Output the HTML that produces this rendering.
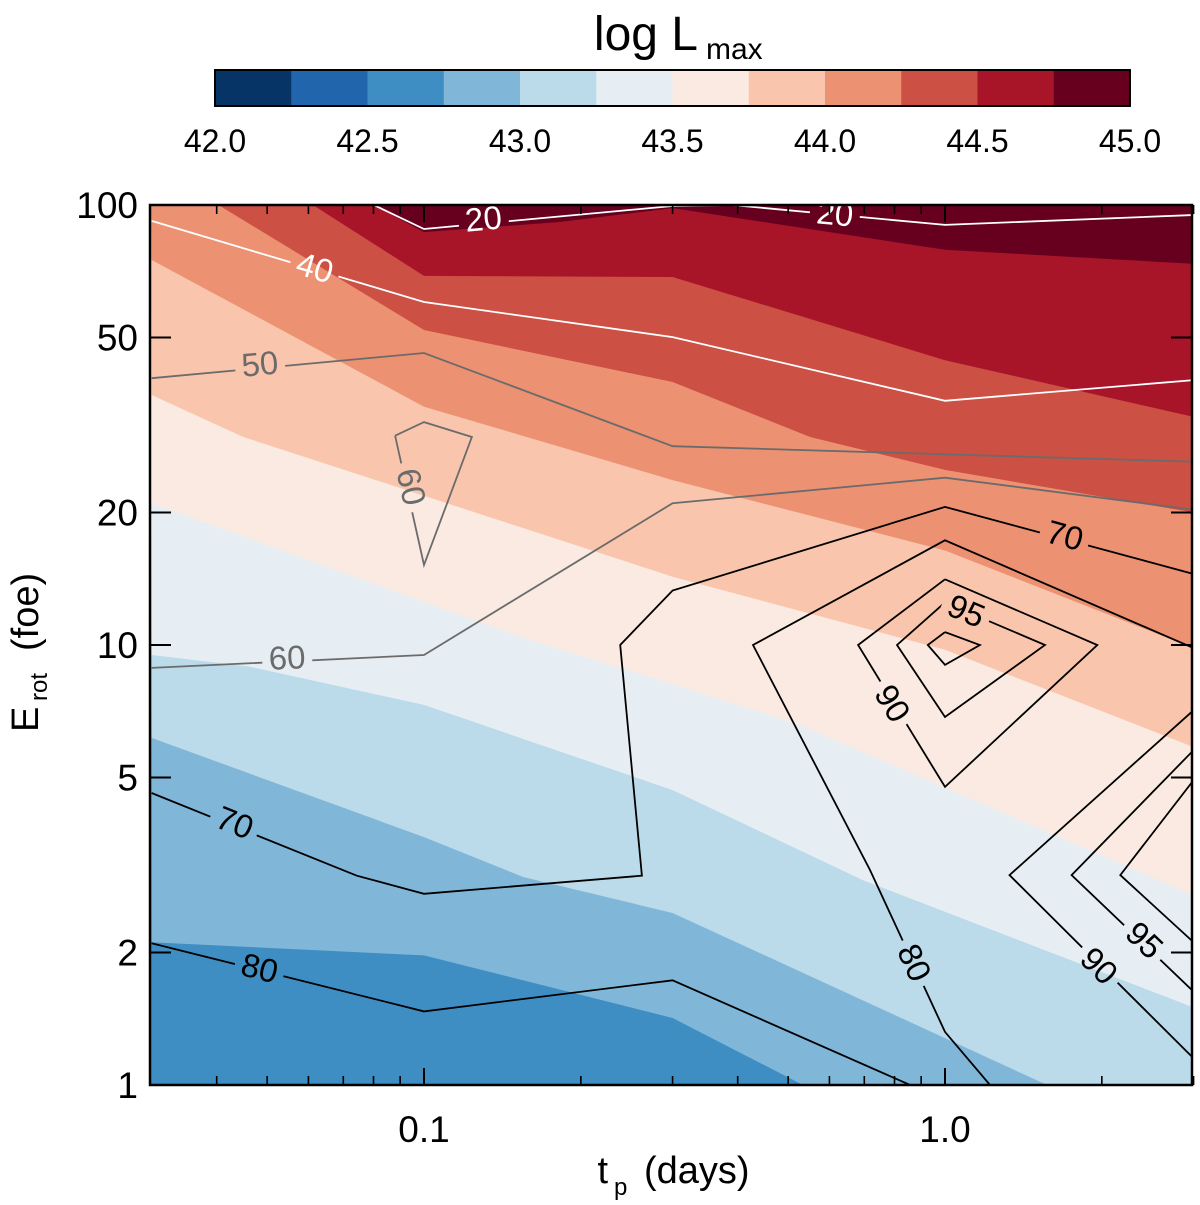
<!DOCTYPE html>
<html><head><meta charset="utf-8"><style>
html,body{margin:0;background:#fff;width:1200px;height:1205px;overflow:hidden}
svg{display:block}
svg text{font-family:"Liberation Sans",sans-serif}
</style></head><body>
<svg id="chart" width="1200" height="1205" viewBox="0 0 1200 1205" xmlns="http://www.w3.org/2000/svg">
<defs>
<clipPath id="plotclip"><rect x="150" y="205" width="1042" height="880"/></clipPath>
<mask id="labelmask" maskUnits="userSpaceOnUse" x="0" y="0" width="1200" height="1205"><rect x="0" y="0" width="1200" height="1205" fill="#fff"/><g id="maskholes"></g></mask>
</defs>
<g id="colorbar"></g>
<g>
<text x="698" y="50" font-size="48" text-anchor="end">log L</text>
<text x="706" y="59" font-size="30">max</text>
</g>
<g clip-path="url(#plotclip)">
<g id="bands"></g>
<g id="lines" mask="url(#labelmask)"></g>
</g>
<g id="labels"></g>
<g id="axes"></g>
<text x="608" y="1183" font-size="38" text-anchor="end">t</text>
<text x="614" y="1195" font-size="24">p</text>
<text x="644" y="1183" font-size="38">(days)</text>
<g transform="translate(38,645) rotate(-90)">
<text x="-87" y="0" font-size="38">E</text>
<text x="-56" y="9" font-size="24">rot</text>
<text x="-6" y="0" font-size="38">(foe)</text>
</g>
</svg>
<script>
const NS='http://www.w3.org/2000/svg';
const bandColors=['#073466','#2166ac','#3e8ec4','#80b7d8','#bbdaea','#e6eef3','#faeae1','#f9c6ad','#ec9273','#cc5044','#a81529','#67001f'];
const levelTicks=[42.0,42.5,43.0,43.5,44.0,44.5,45.0];
const levelMin=42.0, levelMax=45.0, levelStep=0.25;
const xTicks=[0.1,1.0];
const xTickLabels=['0.1','1.0'];
const xMinorTicks=[0.04,0.05,0.06,0.07,0.08,0.09,0.2,0.3,0.4,0.5,0.6,0.7,0.8,0.9,2,3];
const yTicks=[1,2,5,10,20,50,100];
const yTickLabels=['1','2','5','10','20','50','100'];
// band boundaries [tp, E]; band above boundary gets bandColors index
const bound4=[[0.03,2.11],[0.1,1.97],[0.3,1.42],[0.534,1.0],[3,0.35]];
const bound5=[[0.03,6.15],[0.1,3.66],[0.155,2.97],[0.3,2.46],[1.57,1.0],[3,0.7]];
const bound6=[[0.03,9.49],[0.0464,8.92],[0.1,7.31],[0.3,4.68],[0.696,2.92],[3,1.5]];
const bound7=[[0.03,21.0],[0.158,10.3],[0.3,8.15],[0.527,6.58],[3,2.7]];
const bound8=[[0.03,37.0],[0.045,29.7],[0.3,14.3],[1.0,9.75],[3,5.86]];
const bound9=[[0.03,75.0],[0.1,34.8],[0.3,23.7],[1.0,16.4],[3,9.84]];
const bound10=[[0.03,115],[0.0403,100],[0.1,52.0],[0.3,39.6],[0.551,29.7],[1.0,25.0],[3,20.0]];
const bound11=[[0.03,160],[0.0612,100],[0.1,69.0],[0.3,68.6],[1.0,44.4],[3,33.0]];
const bound12=[[0.03,200],[0.0787,101],[0.1,86.8],[0.182,91.5],[0.3,98.4],[1.0,79.1],[3,73.5]];
const boundaries=[bound4,bound5,bound6,bound7,bound8,bound9,bound10,bound11,bound12];
const boundaryColorIdx=[3,4,5,6,7,8,9,10,11];
// contour lines
const c20=[[0.0787,101],[0.1,88.2],[0.3,99.5],[0.39,100],[1.0,90.1],[3,94.9]];
const c40=[[0.03,92.0],[0.1,60.2],[0.3,50.1],[1.0,35.9],[3,40.0]];
const c50=[[0.03,40.4],[0.1,46.1],[0.3,28.3],[3,26.1]];
const c60a=[[0.088,29.9],[0.1,32.1],[0.1236,29.7],[0.1,15.2],[0.088,29.9]];
const c60b=[[0.03,8.87],[0.1,9.49],[0.3,21.0],[1.0,24.0],[3,20.3]];
const c70=[[0.03,4.61],[0.0743,2.99],[0.1,2.72],[0.262,2.99],[0.238,10],[0.3,13.3],[1.0,20.6],[3,14.5]];
const c80a=[[0.03,2.10],[0.1,1.47],[0.3,1.73],[0.857,1.0]];
const c80b=[[3,9.84],[1.0,17.3],[0.428,10],[0.718,3.08],[1.0,1.32],[1.22,1.0]];
const c90a=[[1.0,14.1],[0.681,10],[1.0,4.76],[1.96,10],[1.0,14.1]];
const c95a=[[1.0,12.5],[0.809,10],[1.0,6.86],[1.556,10],[1.0,12.5]];
const c100a=[[1.0,10.7],[0.927,10],[1.0,9.01],[1.167,10],[1.0,10.7]];
const c90b=[[3,7.11],[1.33,3.0],[3,1.15]];
const c95b=[[3,5.77],[1.75,3.0],[3,1.63]];
const c100b=[[3,4.93],[2.17,3.0],[3,2.11]];
const contourSets=[c20,c40,c50,c60a,c60b,c70,c80a,c80b,c90a,c95a,c100a,c90b,c95b,c100b];
const contourValues=[20,40,50,60,60,70,80,80,90,95,100,90,95,100];
// labels: [tp, E, text, contour index]
const contourLabels=[[0.130,93.4,'20',0],[0.615,95.9,'20',0],[0.0618,72.3,'40',1],[0.0484,43.7,'50',2],[0.0948,22.9,'60',3],[0.0546,9.39,'60',4],[0.0434,3.96,'70',5],[1.70,17.8,'70',5],[0.0484,1.85,'80',6],[0.876,1.90,'80',7],[0.795,7.38,'90',8],[1.10,12.0,'95',9],[1.98,1.87,'90',11],[2.42,2.14,'95',12]];

const X=t=>424+521*(Math.log10(t)+1);
const Y=e=>1085-440*Math.log10(e);
const lineColor=v=>v<=40?'#ffffff':(v<=60?'#6b6b6b':'#000000');
function mk(tag,attrs,parent){const el=document.createElementNS(NS,tag);for(const k in attrs)el.setAttribute(k,attrs[k]);parent.appendChild(el);return el;}

// colorbar
const cb=document.getElementById('colorbar');
const cbX0=215,cbX1=1130,cbY=70,cbH=36;
const cbScale=v=>cbX0+(v-levelMin)/(levelMax-levelMin)*(cbX1-cbX0);
const nb=Math.round((levelMax-levelMin)/levelStep);
for(let i=0;i<nb;i++){
  const a=cbScale(levelMin+i*levelStep),b=cbScale(levelMin+(i+1)*levelStep);
  const r=mk('rect',{x:a,y:cbY,width:b-a+0.5,height:cbH,fill:bandColors[i]},cb);
  
  
}
mk('rect',{x:cbX0,y:cbY,width:cbX1-cbX0,height:cbH,fill:'none',stroke:'#000','stroke-width':2},cb);
levelTicks.forEach(v=>{
  const t=mk('text',{x:cbScale(v),y:152,'font-size':32,'text-anchor':'middle'},cb);
  t.textContent=v.toFixed(1);
  
  
});

// bands
const bands=document.getElementById('bands');
const bg=mk('rect',{x:150,y:205,width:1042,height:880,fill:bandColors[2]},bands);


boundaries.forEach((bd,i)=>{
  let d=bd.map((p,j)=>(j?'L':'M')+X(p[0]).toFixed(1)+','+Y(p[1]).toFixed(1)).join(' ');
  d+=' L1192,150 L150,150 Z';
  const p=mk('path',{d:d,fill:bandColors[boundaryColorIdx[i]]},bands);
  
  
});

// lines
const lines=document.getElementById('lines');
contourSets.forEach((cs,i)=>{
  const pts=cs.map(p=>X(p[0]).toFixed(1)+','+Y(p[1]).toFixed(1)).join(' ');
  const pl=mk('polyline',{points:pts,fill:'none',stroke:lineColor(contourValues[i]),'stroke-width':1.8,'stroke-linejoin':'miter'},lines);
  
  
});

// labels
const labels=document.getElementById('labels');
const holes=document.getElementById('maskholes');
contourLabels.forEach(l=>{
  const lx=X(l[0]),ly=Y(l[1]);
  const cs=contourSets[l[3]];
  let best=1e9,ang=0;
  for(let j=0;j<cs.length-1;j++){
    const ax=X(cs[j][0]),ay=Y(cs[j][1]),bx=X(cs[j+1][0]),by=Y(cs[j+1][1]);
    const dx=bx-ax,dy=by-ay,L2=dx*dx+dy*dy;
    let t=((lx-ax)*dx+(ly-ay)*dy)/L2;t=Math.max(0,Math.min(1,t));
    const qx=ax+t*dx,qy=ay+t*dy,dd=(qx-lx)**2+(qy-ly)**2;
    if(dd<best){best=dd;ang=Math.atan2(dy,dx)*180/Math.PI;}
  }
  if(ang>90)ang-=180;if(ang<-90)ang+=180;
  const w=l[2].length*18+14;
  mk('rect',{x:lx-w/2,y:ly-16,width:w,height:32,fill:'#000',transform:`rotate(${ang} ${lx} ${ly})`},holes);
  const t=mk('text',{x:lx,y:ly+12,'font-size':33,'text-anchor':'middle',fill:lineColor(contourValues[l[3]]),transform:`rotate(${ang} ${lx} ${ly})`},labels);
  t.textContent=l[2];
  
  
});

// axes
const ax=document.getElementById('axes');
mk('rect',{x:150,y:205,width:1042,height:880,fill:'none',stroke:'#000','stroke-width':2.5},ax);
xTicks.forEach((v,i)=>{
  const x=X(v);
  mk('line',{x1:x,y1:1085,x2:x,y2:1068,stroke:'#000','stroke-width':2},ax);
  mk('line',{x1:x,y1:205,x2:x,y2:222,stroke:'#000','stroke-width':2},ax);
  const t=mk('text',{x:x,y:1142,'font-size':37,'text-anchor':'middle'},ax);
  t.textContent=xTickLabels[i];
  
  
});
xMinorTicks.forEach(v=>{
  const x=X(v);
  mk('line',{x1:x,y1:1085,x2:x,y2:1076,stroke:'#000','stroke-width':1.6},ax);
  mk('line',{x1:x,y1:205,x2:x,y2:214,stroke:'#000','stroke-width':1.6},ax);
});
yTicks.forEach((v,i)=>{
  const y=Y(v);
  mk('line',{x1:150,y1:y,x2:171,y2:y,stroke:'#000','stroke-width':2},ax);
  mk('line',{x1:1192,y1:y,x2:1171,y2:y,stroke:'#000','stroke-width':2},ax);
  const t=mk('text',{x:138,y:y+13,'font-size':37,'text-anchor':'end'},ax);
  t.textContent=yTickLabels[i];
  
  
});
</script>
</body></html>
